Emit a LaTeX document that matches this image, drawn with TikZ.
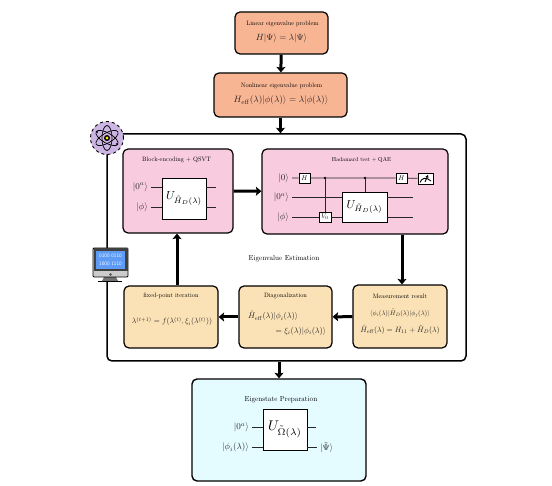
\documentclass[tikz,border=0pt]{standalone}
\usepackage{amsmath}
\usetikzlibrary{arrows.meta}

\definecolor{peachbox}{HTML}{F7B594}
\definecolor{pinkbox}{HTML}{F8CBDF}
\definecolor{sandbox}{HTML}{FBE2B6}
\definecolor{cyanbox}{HTML}{E4FBFF}
\definecolor{atomfill}{HTML}{CDB5E3}
\definecolor{screenblue}{HTML}{5E9BF5}

\tikzset{
  panel/.style={draw=black, rounded corners=5pt, line width=1.2pt, inner sep=0pt},
  gatebox/.style={draw=black, fill=white, line width=0.8pt, inner sep=0pt},
  gatelabel/.style={scale=0.68, inner sep=0pt},
  bigu/.style={draw=black, fill=white, line width=0.8pt, inner sep=0pt},
  title/.style={scale=0.63},
  eqn/.style={scale=0.77, text=black!85},
  ket/.style={scale=0.9, text=black!85},
  wire/.style={draw=black!85, line width=0.8pt},
  flow/.style={line width=3pt, -{Stealth[length=5.5pt, width=9pt, inset=1pt]}}
}

\begin{document}
\begin{tikzpicture}[x=1pt,y=-1pt]
\useasboundingbox (0,0) rectangle (552,486);

% outer frame
\node[panel, line width=1.5pt, minimum width=359pt, minimum height=227pt] (frame) at (286.5,247.5) {};

% top boxes
\node[panel, fill=peachbox, minimum width=93pt, minimum height=42pt] (linear) at (281.5,33) {};
\node[title] (lineartitle) at (282.5,23.5) {Linear eigenvalue problem};
\node[scale=0.9, text=black!85] (lineareq) at (281.5,38) {$H|\Psi\rangle=\lambda|\Psi\rangle$};
\node[panel, fill=peachbox, minimum width=133pt, minimum height=44pt] (nonlinear) at (280.5,95) {};
\node[title] (nonlineartitle) at (281.5,86) {Nonlinear eigenvalue problem};
\node[scale=0.92, text=black!85] (nonlineareq) at (281,100.5) {$H_{\mathrm{eff}}(\lambda)|\phi(\lambda)\rangle=\lambda|\phi(\lambda)\rangle$};

% inner boxes
\node[panel, fill=pinkbox, minimum width=110pt, minimum height=84pt] (block) at (178,191) {};
\node[title] (blocktitle) at (176.5,160) {Block-encoding + QSVT};
\node[panel, fill=pinkbox, minimum width=186pt, minimum height=85pt] (hadamard) at (355,191.5) {};
\node[scale=0.58] (hadamardtitle) at (361.5,159.5) {Hadamard test + QAE};
\node[panel, fill=sandbox, minimum width=94pt, minimum height=62pt] (fixed) at (171,317) {};
\node[title] (fixedtitle) at (171,296) {fixed-point iteration};
\node[eqn] (fixedeq) at (172,321.5) {$\lambda^{(t+1)}=f(\lambda^{(t)},\xi_i(\lambda^{(t)}))$};
\node[panel, fill=sandbox, minimum width=93pt, minimum height=62pt] (diag) at (285.5,317) {};
\node[title] (diagtitle) at (285.5,296) {Diagonalization};
\node[scale=0.82, text=black!85] (diageqa) at (273,316) {$\hat H_{\mathrm{eff}}(\lambda)|\phi_i(\lambda)\rangle$};
\node[scale=0.82, text=black!85, anchor=east] (diageqb) at (329,331) {$=\xi_i(\lambda)|\phi_i(\lambda)\rangle$};
\node[panel, fill=sandbox, minimum width=94pt, minimum height=63pt] (meas) at (400,316.5) {};
\node[title] (meastitle) at (400,296) {Measurement result};
\node[scale=0.67, text=black!85] (measeqa) at (400,313.5) {$\langle\phi_i(\lambda)|\tilde H_D(\lambda)|\phi_j(\lambda)\rangle$};
\node[eqn] (measeqb) at (400,329.5) {$\hat H_{\mathrm{eff}}(\lambda)=H_{11}+\tilde H_D(\lambda)$};
\node[panel, line width=1.4pt, fill=cyanbox, minimum width=174pt, minimum height=102pt] (prep) at (279,430) {};
\node[scale=0.72] (preptitle) at (281,399.5) {Eigenstate Preparation};
\node[scale=0.72] (frametitle) at (284,258.5) {Eigenvalue Estimation};

% arrows
\draw[flow] (linear) -- (nonlinear);
\draw[flow] (nonlinear.south) -- (nonlinear.south |- frame.north);
\draw[flow] (block) -- (hadamard);
\draw[flow] (hadamard.south -| meas.north) ++(2,0) coordinate (hs) -- (hs |- meas.north);
\draw[flow] (meas) -- (diag);
\draw[flow] (diag) -- (fixed);
\draw[flow] (fixed.north) ++(6,0) coordinate (fs) -- (fs |- block.south);
\draw[flow] (frame.south -| prep.north) -- (prep.north);

% block-encoding circuit
\node[bigu, minimum width=44pt, minimum height=41pt] (ublock) at (184,198.5) {\scalebox{1.15}{$U_{\tilde H_D(\lambda)}$}};
\node[ket, anchor=east] (ba) at (151,187) {$|0^a\rangle$};
\node[ket, anchor=east] (bb) at (151,207) {$|\phi\rangle$};
\coordinate (bc) at (216,187);
\coordinate (bd) at (216,207);
\draw[wire] (ba.east) -- (ublock.west |- ba);
\draw[wire] (bb.east) -- (ublock.west |- bb);
\draw[wire] (ublock.east |- bc) -- (bc);
\draw[wire] (ublock.east |- bd) -- (bd);

% hadamard circuit
\node[ket, anchor=east] (ha) at (292,178) {$|0\rangle$};
\node[ket, anchor=east] (hb) at (292,197.5) {$|0^a\rangle$};
\node[ket, anchor=east] (hc) at (292,217) {$|\phi\rangle$};
\node[gatebox, minimum width=11pt, minimum height=10pt] (h1) at (304.5,178) {};
\node[gatelabel] (h1text) at (h1) {$H$};
\node[gatebox, minimum width=11pt, minimum height=10pt] (h2) at (401.5,178) {};
\node[gatelabel] (h2text) at (h2) {$H$};
\node[gatebox, minimum width=15pt, minimum height=11pt] (meter) at (425.5,178.5) {};
\node[gatebox, minimum width=12pt, minimum height=10pt] (vgate) at (325,217) {};
\node[gatelabel] (vtext) at (vgate) {$V_0$};
\node[bigu, minimum width=45pt, minimum height=30pt] (uhad) at (364.5,207) {\scalebox{1.15}{$U_{\tilde H_D(\lambda)}$}};
\fill (325,178) circle (1.4pt) coordinate (c1);
\fill (365,178) circle (1.4pt) coordinate (c2);
\coordinate (he) at (413,197.5);
\coordinate (hf) at (413,217);
\draw[wire] (ha.east) -- (h1) -- (h2) -- (meter);
\draw[wire] (hb.east) -- (uhad.west |- hb);
\draw[wire] (hc.east) -- (vgate) -- (uhad.west |- hc);
\draw[wire] (uhad.east |- he) -- (he);
\draw[wire] (uhad.east |- hf) -- (hf);
\draw[wire] (c1) -- (vgate);
\draw[wire] (c2) -- (c2 |- uhad.north);
\draw[line width=0.9pt] (420,182.5) .. controls (421.5,178) and (426,176.5) .. (431,181);
\draw[line width=0.9pt, -{Stealth[length=3pt, width=3.5pt]}] (425,182) -- (428,175);

% preparation circuit
\node[bigu, minimum width=44pt, minimum height=41pt] (uprep) at (285,429.5) {\scalebox{1.4}{$U_{\tilde\Omega(\lambda)}$}};
\node[ket, anchor=east] (pa) at (252,427.5) {$|0^a\rangle$};
\node[ket, anchor=east] (pb) at (252,447.5) {$|\phi_i(\lambda)\rangle$};
\coordinate (pc) at (316,427.5);
\node[ket, anchor=west] (pd) at (317,447.5) {$|\tilde\Psi\rangle$};
\draw[wire] (pa.east) -- (uprep.west |- pa);
\draw[wire] (pb.east) -- (uprep.west |- pb);
\draw[wire] (uprep.east |- pc) -- (pc);
\draw[wire] (uprep.east |- pd) -- (pd.west);

% atom icon
\node[circle, draw=black, dashed, fill=atomfill, line width=0.9pt, minimum size=33pt, inner sep=0pt] (atom) at (107,138) {};
\foreach \ang in {30,90,150}
  \draw[line width=0.7pt, rotate around={\ang:(atom.center)}] (atom.center) ellipse (12.5pt and 5pt);
\fill[black] (atom.center) circle (3pt);
\fill[yellow!85!orange] (atom.center) circle (1.6pt);
\fill[black] (97,132) circle (1.2pt);
\fill[black] (117,144) circle (1.2pt);

% monitor icon
\fill[black!55] (104,277) -- (116,277) -- (118,281) -- (102,281) -- cycle;
\draw[black, line width=0.8pt] (98,281.5) -- (122,281.5);
\node[draw=black, fill=black!20, rounded corners=1pt, line width=0.8pt, minimum width=35pt, minimum height=29pt, inner sep=0pt] (monitor) at (110.5,262.5) {};
\fill[black!75] (93.5,248.5) rectangle (127.5,271);
\node[fill=screenblue, minimum width=29pt, minimum height=18pt, inner sep=0pt, align=center, text=white, scale=1] (screen) at (110.5,260) {\scalebox{0.52}{\sffamily 0100 0110}\\[-3.5pt]\scalebox{0.52}{\sffamily 1000 1110}};
\fill[black!70] (110.5,274.5) circle (1.4pt);
\end{tikzpicture}
\end{document}
